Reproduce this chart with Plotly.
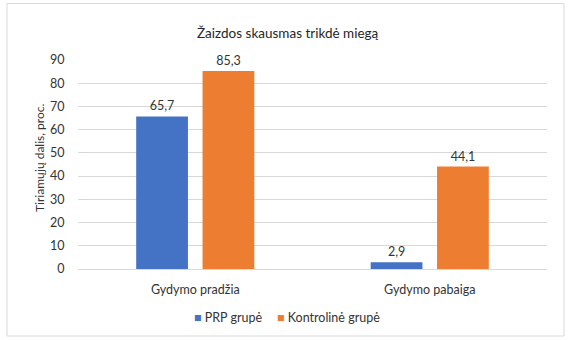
import plotly.graph_objects as go

categories = ["Gydymo pradžia", "Gydymo pabaiga"]
prp_values = [65.7, 2.9]
control_values = [85.3, 44.1]
prp_labels = ["65,7", "2,9"]
control_labels = ["85,3", "44,1"]
series_names = ["PRP grupė", "Kontrolinė grupė"]
series_colors = ["#4472C4", "#ED7D31"]
y_ticks = [0, 10, 20, 30, 40, 50, 60, 70, 80, 90]

FONT = "Lato"
TXT = "#333333"
FS = 12.5

fig = go.Figure()
for name, vals, labels, col in [
    (series_names[0], prp_values, prp_labels, series_colors[0]),
    (series_names[1], control_values, control_labels, series_colors[1]),
]:
    fig.add_trace(go.Bar(
        x=categories, y=vals, name=name,
        marker=dict(color=col, line=dict(width=0)),
        text=labels, textposition="outside", cliponaxis=False,
        textfont=dict(family=FONT, size=FS, color=TXT),
        showlegend=False,
    ))

L, R, T, B = 78, 25, 60, 71
pw = 572 - L - R
ph = 340 - T - B

def px_x(x):
    return (x - L) / pw

def px_y(y):
    return (340 - B - y) / ph

legend_annots = []
for name, col, xpos in [(series_names[0], series_colors[0], 192),
                        (series_names[1], series_colors[1], 275)]:
    legend_annots.append(dict(
        text=f'<span style="color:{col}">■</span> {name}',
        xref="paper", yref="paper", x=px_x(xpos), y=px_y(317),
        xanchor="left", yanchor="middle", showarrow=False,
        font=dict(family=FONT, size=FS, color=TXT)))

fig.update_layout(
    width=572, height=340,
    margin=dict(l=L, r=R, t=T, b=B),
    paper_bgcolor="white", plot_bgcolor="white",
    font=dict(family=FONT, size=FS, color=TXT),
    barmode="group", bargap=0.434, bargroupgap=0.22,
    showlegend=False,
    xaxis=dict(showgrid=False, showline=True, linecolor="#d9d9d9", linewidth=1,
               ticks="outside", ticklen=9, tickcolor="rgba(0,0,0,0)",
               tickfont=dict(family=FONT, size=FS, color=TXT)),
    yaxis=dict(range=[0, 90], tickvals=y_ticks, showgrid=True, gridcolor="#d9d9d9",
               gridwidth=1, zeroline=False, showline=False,
               ticks="outside", ticklen=10, tickcolor="rgba(0,0,0,0)",
               tickfont=dict(family=FONT, size=FS, color=TXT)),
    annotations=[
        dict(text="Žaizdos skausmas trikdė miegą", xref="paper", yref="paper",
             x=px_x(288), y=px_y(33), xanchor="center", yanchor="middle",
             showarrow=False, font=dict(family=FONT, size=13.5, color="#262626")),
        dict(text="Tiriamųjų dalis, proc.", xref="paper", yref="paper",
             x=px_x(39), y=px_y(158), xanchor="center", yanchor="middle",
             textangle=-90, showarrow=False,
             font=dict(family=FONT, size=12, color=TXT)),
    ] + legend_annots,
    shapes=[
        dict(type="rect", xref="paper", yref="paper",
             x0=px_x(7), x1=px_x(564), y0=px_y(336), y1=px_y(3.5),
             line=dict(color="#d9d9d9", width=1), fillcolor="rgba(0,0,0,0)",
             layer="below"),
    ],
)

fig.write_html("out.html")
